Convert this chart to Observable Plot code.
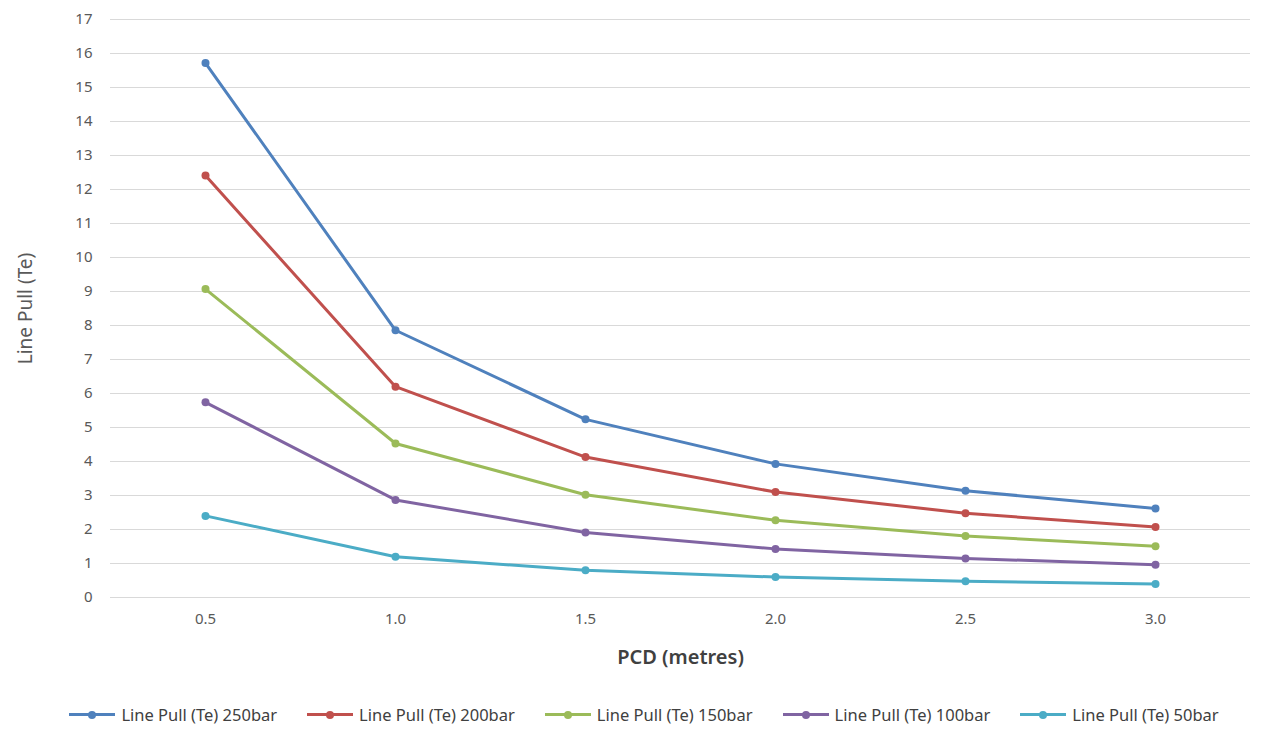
<!DOCTYPE html>
<html>
<head>
<meta charset="utf-8">
<script src="https://cdn.jsdelivr.net/npm/d3@7"></script>
<script src="https://cdn.jsdelivr.net/npm/@observablehq/plot@0.6"></script>
<style>
  html, body { margin: 0; padding: 0; background: #fff; }
  body { width: 1268px; height: 729px; overflow: hidden; font-family: "Noto Sans", sans-serif; }
  #legend { display: flex; justify-content: center; gap: 30px; margin-left: 20px; font-size: 16.5px; color: #404040; margin-top: 23px; white-space: nowrap; }
  .item { display: flex; align-items: center; gap: 6px; }
  .sw { position: relative; width: 46px; height: 12px; }
  .sw .ln { position: absolute; left: 0; right: 0; top: 4.5px; height: 3px; }
  .sw .dt { position: absolute; left: 19px; top: 2px; width: 8px; height: 8px; border-radius: 50%; }
</style>
</head>
<body>
<div id="chart"></div>
<div id="legend"></div>
<script>
const pcd = [0.5, 1.0, 1.5, 2.0, 2.5, 3.0];
const seriesNames = ["Line Pull (Te) 250bar", "Line Pull (Te) 200bar", "Line Pull (Te) 150bar", "Line Pull (Te) 100bar", "Line Pull (Te) 50bar"];
const pull250 = [15.72, 7.86, 5.24, 3.93, 3.14, 2.62];
const pull200 = [12.41, 6.2, 4.13, 3.1, 2.48, 2.07];
const pull150 = [9.07, 4.53, 3.02, 2.27, 1.81, 1.51];
const pull100 = [5.74, 2.87, 1.91, 1.43, 1.15, 0.96];
const pull50 = [2.4, 1.2, 0.8, 0.6, 0.48, 0.4];
const colors = ["#4F81BD", "#C0504D", "#9BBB59", "#8064A2", "#4BACC6"];
const yTicks = d3.range(0, 18);
const xTickLabels = ["0.5", "1.0", "1.5", "2.0", "2.5", "3.0"];

const allSeries = [pull250, pull200, pull150, pull100, pull50];
const data = allSeries.flatMap((vals, i) => vals.map((v, j) => ({series: seriesNames[i], pcd: pcd[j], value: v})));

const plot = Plot.plot({
  width: 1268,
  height: 680,
  marginLeft: 110,
  marginRight: 18,
  marginTop: 19,
  marginBottom: 83,
  style: {fontFamily: "'Noto Sans', sans-serif", fontSize: "14px", color: "#595959", background: "#fff"},
  x: {domain: [0.25, 3.25], ticks: pcd, tickFormat: (d, i) => xTickLabels[i]},
  y: {domain: [0, 17], ticks: yTicks},
  color: {domain: seriesNames, range: colors},
  marks: [
    Plot.gridY(yTicks, {stroke: "#d9d9d9", strokeOpacity: 1, strokeWidth: 1.2}),
    Plot.axisY(yTicks, {tickSize: 0, tickPadding: 18, label: "Line Pull (Te)", labelAnchor: "center", labelArrow: "none", labelOffset: 92, fontSize: 15}),
    Plot.axisX(pcd, {tickSize: 0, tickPadding: 16, tickFormat: (d, i) => xTickLabels[i], fontSize: 15, label: "PCD (metres)", labelAnchor: "center", labelArrow: "none", labelOffset: 66}),
    Plot.line(data, {x: "pcd", y: "value", z: "series", stroke: "series", strokeWidth: 3}),
    Plot.dot(data, {x: "pcd", y: "value", fill: "series", r: 4})
  ]
});
document.getElementById("chart").appendChild(plot);

plot.querySelectorAll("g[aria-label='y-axis label'] text").forEach(t => {
  t.style.fontSize = "19px";
  t.style.fill = "#595959";
});
plot.querySelectorAll("g[aria-label='x-axis label'] text").forEach(t => {
  t.style.fontSize = "20px";
  t.style.fill = "#404040";
  t.style.fontWeight = "600";
});

const legend = document.getElementById("legend");
seriesNames.forEach((name, i) => {
  const item = document.createElement("div");
  item.className = "item";
  item.innerHTML = `<div class="sw"><div class="ln" style="background:${colors[i]}"></div><div class="dt" style="background:${colors[i]}"></div></div><span>${name}</span>`;
  legend.appendChild(item);
});
</script>
</body>
</html>
